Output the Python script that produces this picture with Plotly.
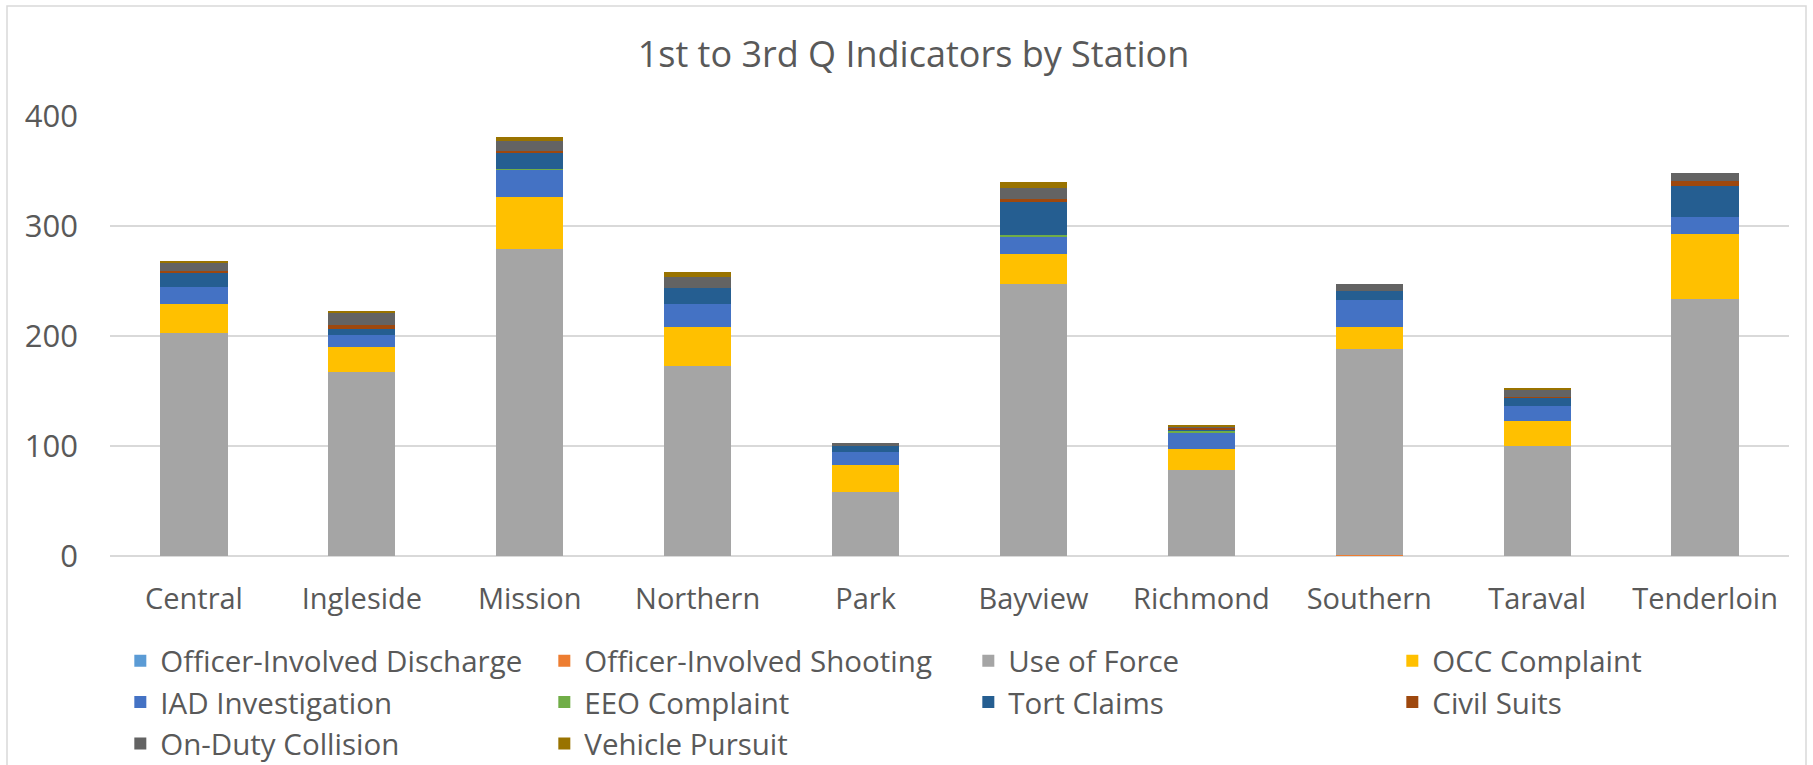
import plotly.graph_objects as go

stations = ["Central", "Ingleside", "Mission", "Northern", "Park",
            "Bayview", "Richmond", "Southern", "Taraval", "Tenderloin"]

officer_involved_discharge = [0, 0, 0, 0, 0, 0, 0, 0, 0, 0]
officer_involved_shooting = [0, 0, 0, 0, 0, 0, 0, 1, 0, 0]
use_of_force = [203, 167, 279, 173, 58, 247, 78, 187, 100, 234]
occ_complaint = [26, 23, 47, 35, 25, 28, 19, 20, 23, 59]
iad_investigation = [16, 11, 25, 21, 12, 15, 15, 25, 13, 15]
eeo_complaint = [0, 0, 1, 0, 0, 2, 2, 0, 0, 0]
tort_claims = [13, 5, 14, 15, 5, 30, 1, 8, 8, 28]
civil_suits = [1, 4, 2, 0, 0, 3, 1, 0, 1, 5]
on_duty_collision = [8, 11, 9, 10, 3, 10, 2, 6, 6, 7]
vehicle_pursuit = [1, 1, 4, 4, 0, 5, 1, 0, 2, 0]

series = [
    ("Officer-Involved Discharge", officer_involved_discharge, "#5B9BD5"),
    ("Officer-Involved Shooting", officer_involved_shooting, "#ED7D31"),
    ("Use of Force", use_of_force, "#A5A5A5"),
    ("OCC Complaint", occ_complaint, "#FFC000"),
    ("IAD Investigation", iad_investigation, "#4472C4"),
    ("EEO Complaint", eeo_complaint, "#70AD47"),
    ("Tort Claims", tort_claims, "#255E91"),
    ("Civil Suits", civil_suits, "#9E480E"),
    ("On-Duty Collision", on_duty_collision, "#636363"),
    ("Vehicle Pursuit", vehicle_pursuit, "#997300"),
]

FONT = "'Open Sans', Lato, Roboto, sans-serif"
TXT = "#595959"

fig = go.Figure()
for name, vals, col in series:
    fig.add_trace(go.Bar(x=stations, y=vals, name=name,
                         marker=dict(color=col, line=dict(width=0))))

W, H = 1813, 765
L, R, T, B = 110, 24, 116, 209
pw = W - L - R
ph = H - T - B

fig.update_layout(
    width=W, height=H,
    barmode="stack", bargap=0.6,
    paper_bgcolor="white", plot_bgcolor="white",
    margin=dict(l=L, r=R, t=T, b=B, pad=0, autoexpand=False),
    font=dict(family=FONT, color=TXT),
    title=dict(text="1st to 3rd Q Indicators by Station",
               x=0.5 + 7 / W, xanchor="center", y=1 - 54 / H, yanchor="middle",
               font=dict(size=36, color=TXT, family=FONT)),
    legend=dict(orientation="h", x=-0.001, xanchor="left",
                y=-(635 - (T + ph)) / ph, yanchor="top",
                font=dict(size=29.5, color=TXT, family=FONT),
                traceorder="normal", entrywidth=367, entrywidthmode="pixels",
                indentation=12,
                itemwidth=30, tracegroupgap=0, bgcolor="rgba(0,0,0,0)"),
    xaxis=dict(showgrid=False, showline=False, ticks="",
               tickfont=dict(size=29, color=TXT, family=FONT),
               ticklabelstandoff=23),
    yaxis=dict(range=[0, 400], tickvals=[0, 100, 200, 300, 400],
               showgrid=True, gridcolor="#D9D9D9", gridwidth=1.5,
               zeroline=True, zerolinecolor="#D9D9D9", zerolinewidth=1.5,
               showline=False, ticks="",
               tickfont=dict(size=31, color=TXT, family=FONT),
               ticklabelstandoff=31),
)

# chart border
fig.add_shape(type="rect", xref="paper", yref="paper",
              x0=(7 - L) / pw, x1=(1806 - L) / pw,
              y0=(T + ph - 790) / ph, y1=(T + ph - 6) / ph,
              line=dict(color="#D9D9D9", width=1.5), fillcolor="rgba(0,0,0,0)",
              layer="below")

fig.write_html("out.html", config={"displayModeBar": False},
               post_script="document.body.style.margin='0';document.body.style.padding='0';")
